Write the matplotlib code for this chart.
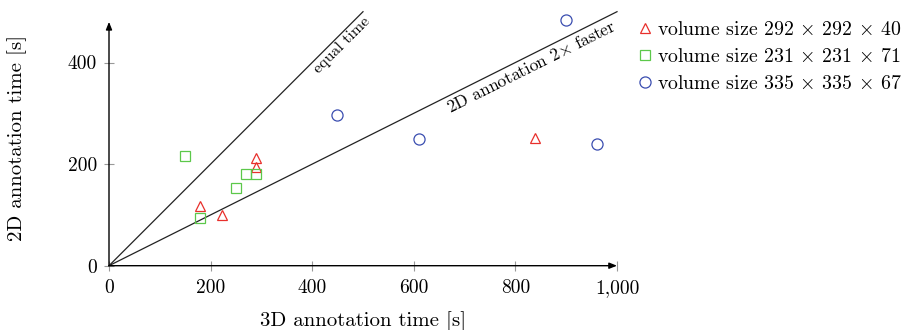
import matplotlib
matplotlib.use("Agg")
import matplotlib.pyplot as plt

plt.rcParams['font.family'] = 'serif'
plt.rcParams['font.serif'] = ['cmr10', 'DejaVu Serif']
plt.rcParams['mathtext.fontset'] = 'cm'
plt.rcParams['axes.formatter.use_mathtext'] = True

# Data
red_x = [180, 222, 290, 290, 838]
red_y = [118, 99, 212, 195, 252]
green_x = [150, 180, 250, 270, 290]
green_y = [215, 94, 152, 180, 180]
blue_x = [449, 610, 899, 960]
blue_y = [296, 250, 484, 239]

labels = [r'volume size 292 $\times$ 292 $\times$ 40',
          r'volume size 231 $\times$ 231 $\times$ 71',
          r'volume size 335 $\times$ 335 $\times$ 67']
xticks = [0, 200, 400, 600, 800, 1000]
xticklabels = ['0', '200', '400', '600', '800', '1,000']
yticks = [0, 200, 400]
yticklabels = ['0', '200', '400']

equal_x = [0, 500]
equal_y = [0, 500]
faster_x = [0, 1000]
faster_y = [0, 500]

W, H = 903, 330
fig = plt.figure(figsize=(W / 100, H / 100), dpi=100)
ax = fig.add_axes([109 / W, (H - 265.7) / H, 508 / W, 480 * 0.508 / H])
ax.set_xlim(0, 1000)
ax.set_ylim(0, 480)

for s in ax.spines.values():
    s.set_visible(False)

# reference lines
ax.plot(equal_x, equal_y, color='#222222', lw=0.9, clip_on=False, zorder=2)
ax.plot(faster_x, faster_y, color='#222222', lw=0.9, clip_on=False, zorder=2)

# axes with arrows
arrow = dict(arrowstyle='-|>,head_length=0.5,head_width=0.2', color='black',
             lw=1.0, shrinkA=0, shrinkB=0, mutation_scale=9)
ax.annotate('', xy=(1000, 0), xytext=(0, 0), arrowprops=arrow,
            annotation_clip=False, zorder=3)
ax.annotate('', xy=(0, 480), xytext=(0, 0), arrowprops=arrow,
            annotation_clip=False, zorder=3)

ms_kw = dict(linestyle='none', markerfacecolor='none', markeredgewidth=0.9,
             clip_on=False, zorder=4)
ax.plot(red_x, red_y, marker='^', markersize=7.5, markeredgecolor='#e8302c',
        label=labels[0], **ms_kw)
ax.plot(green_x, green_y, marker='s', markersize=7.5, markeredgecolor='#5cc84a',
        label=labels[1], **ms_kw)
ax.plot(blue_x, blue_y, marker='o', markersize=8, markeredgecolor='#3a4db0',
        label=labels[2], **ms_kw)

ax.set_xticks(xticks)
ax.set_xticklabels(xticklabels)
ax.set_yticks(yticks)
ax.set_yticklabels(yticklabels)
ax.tick_params(direction='inout', length=7, width=0.8, color='#999999',
               labelsize=14, pad=5)
ax.tick_params(axis='x', pad=6)

ax.text(459, 434, 'equal time', rotation=45, rotation_mode='anchor',
        ha='center', va='center', fontsize=11.5)
ax.text(831, 391, r'2D annotation 2$\times$ faster', rotation=26.57,
        rotation_mode='anchor', ha='center', va='center', fontsize=12.5)

fig.text(363 / W, 1 - 326.5 / H, '3D annotation time [s]', ha='center',
         va='baseline', fontsize=15)
fig.text(17 / W, 1 - 138 / H, '2D annotation time [s]', ha='center',
         va='center', rotation=90, fontsize=15)

ax.legend(loc='upper left', bbox_to_anchor=(638 / W, 1 - 21 / H),
          bbox_transform=fig.transFigure, frameon=False, handlelength=0.75,
          handletextpad=0.2, labelspacing=0.45, borderaxespad=0, borderpad=0,
          fontsize=14.3)

fig.savefig('out.png', dpi=100)
